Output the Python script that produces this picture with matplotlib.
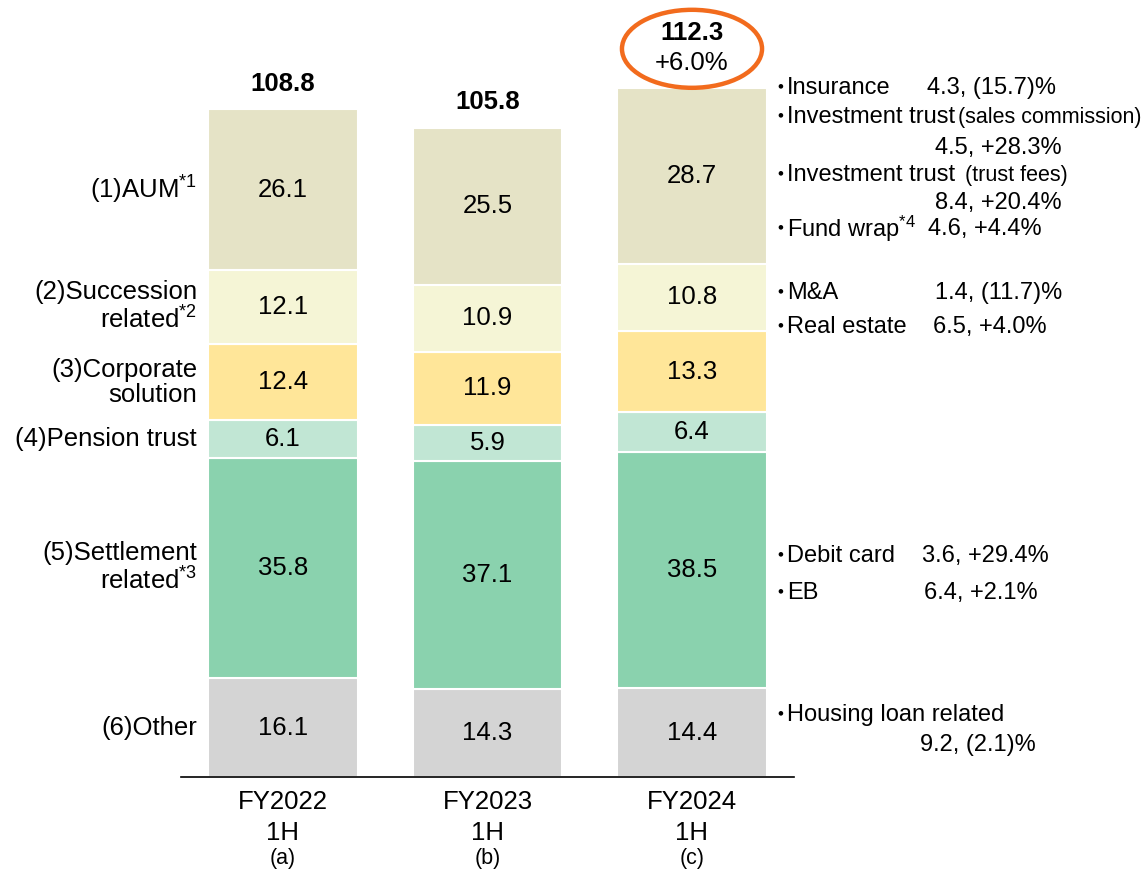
import matplotlib
matplotlib.use("Agg")
import matplotlib.pyplot as plt
from matplotlib.patches import Ellipse

plt.rcParams['font.family'] = ['Liberation Sans', 'Noto Sans CJK JP', 'DejaVu Sans']
plt.rcParams['mathtext.fontset'] = 'custom'
plt.rcParams['mathtext.rm'] = 'Liberation Sans'
plt.rcParams['mathtext.default'] = 'regular'

# Data (bottom -> top)
periods      = ['FY2022', 'FY2023', 'FY2024']
period_half  = ['1H', '1H', '1H']
period_codes = ['(a)', '(b)', '(c)']
categories = ['(6)Other', '(5)Settlement\nrelated$^{*3}$', '(4)Pension trust',
              '(3)Corporate\nsolution', '(2)Succession\nrelated$^{*2}$', '(1)AUM$^{*1}$']
other      = [16.1, 14.3, 14.4]
settlement = [35.8, 37.1, 38.5]
pension    = [6.1, 5.9, 6.4]
corporate  = [12.4, 11.9, 13.3]
succession = [12.1, 10.9, 10.8]
aum        = [26.1, 25.5, 28.7]
totals     = [108.8, 105.8, 112.3]
growth_last = '+6.0%'

# Breakdown for FY2024 1H
detail_names  = ['Insurance', 'Investment trust', 'Investment trust', 'Fund wrap$^{*4}$',
                 'M&A', 'Real estate', 'Debit card', 'EB', 'Housing loan related']
detail_notes  = ['', '(sales commission)', '(trust fees)', '', '', '', '', '', '']
detail_values = ['4.3, (15.7)%', '4.5, +28.3%', '8.4, +20.4%', '4.6, +4.4%',
                 '1.4, (11.7)%', '6.5, +4.0%', '3.6, +29.4%', '6.4, +2.1%', '9.2, (2.1)%']

series = [other, settlement, pension, corporate, succession, aum]
colors = ['#D4D4D4', '#8AD2AE', '#C1E6D4', '#FFE699', '#F5F5D6', '#E5E3C6']

W, H = 1147, 869
fig = plt.figure(figsize=(W / 100, H / 100), dpi=100)
ax = fig.add_axes([180.75 / W, 92 / H, 613.5 / W, 126 * 6.148 / H])
x = list(range(len(periods)))

bottoms = [0.0] * len(x)
for vals, col in zip(series, colors):
    ax.bar(x, vals, width=0.73, bottom=bottoms, color=col, edgecolor='white', linewidth=1.5)
    for i, v in enumerate(vals):
        ax.text(i, bottoms[i] + v / 2, f'{v:.1f}', ha='center', va='center', fontsize=18.5)
    bottoms = [b + v for b, v in zip(bottoms, vals)]

# category labels on the left, next to the first bar
lb = 0.0
for lab, vals in zip(categories, series):
    ax.text(-0.42, lb + vals[0] / 2, lab, ha='right', va='center', fontsize=18.5,
            linespacing=1.08, clip_on=False)
    lb += vals[0]

# totals above bars
for i, t in enumerate(totals):
    if i == len(totals) - 1:
        ax.annotate(growth_last, (i, bottoms[i]), xytext=(0, 18.2), textcoords='offset points',
                    ha='center', va='center', fontsize=18.5, annotation_clip=False)
        ax.annotate(f'{t:.1f}', (i, bottoms[i]), xytext=(0, 39.6), textcoords='offset points',
                    ha='center', va='center', fontsize=18.5, fontweight='bold', annotation_clip=False)
        ax.add_patch(Ellipse((i, bottoms[i] + 39 / 6.148), 0.685, 78 / 6.148, fill=False,
                             edgecolor='#F26B1D', linewidth=3.2, clip_on=False))
    else:
        ax.annotate(f'{t:.1f}', (i, bottoms[i]), xytext=(0, 18.5), textcoords='offset points',
                    ha='center', va='center', fontsize=18.5, fontweight='bold', annotation_clip=False)

# x labels
for i in x:
    ax.annotate(periods[i], (i, 0), xytext=(0, -18), textcoords='offset points',
                ha='center', va='center', fontsize=18.5, annotation_clip=False)
    ax.annotate(period_half[i], (i, 0), xytext=(0, -40.6), textcoords='offset points',
                ha='center', va='center', fontsize=18.5, annotation_clip=False)
    ax.annotate(period_codes[i], (i, 0), xytext=(0, -58.8), textcoords='offset points',
                ha='center', va='center', fontsize=15.5, annotation_clip=False)

ax.set_xlim(-0.5, 2.5)
ax.set_ylim(0, 126)
for s in ['top', 'left', 'right']:
    ax.spines[s].set_visible(False)
ax.spines['bottom'].set_linewidth(1.2)
ax.set_xticks([])
ax.set_yticks([])


def px(xp, yp):
    return xp / W, 1 - yp / H


# right-hand breakdown: (name y, value x, value y, note x)
layout = [(88, 927, 88, None), (117, 935, 148, 958), (175, 935, 203, 965), (229, 928, 229, None),
          (293, 935, 293, None), (327, 933, 327, None), (556, 922, 556, None), (593, 924, 593, None),
          (715, 920, 745, None)]
for name, note, val, (ny, vx, vy, nx) in zip(detail_names, detail_notes, detail_values, layout):
    fig.text(*px(780, ny), '･', ha='center', va='center', fontsize=20,
             family='Noto Sans CJK JP')
    fig.text(*px(787, ny), name, ha='left', va='center', fontsize=17)
    if note:
        fig.text(*px(nx, ny), note, ha='left', va='center', fontsize=15.5)
    fig.text(*px(vx, vy), val, ha='left', va='center', fontsize=17)

fig.savefig('out.png', dpi=100)
